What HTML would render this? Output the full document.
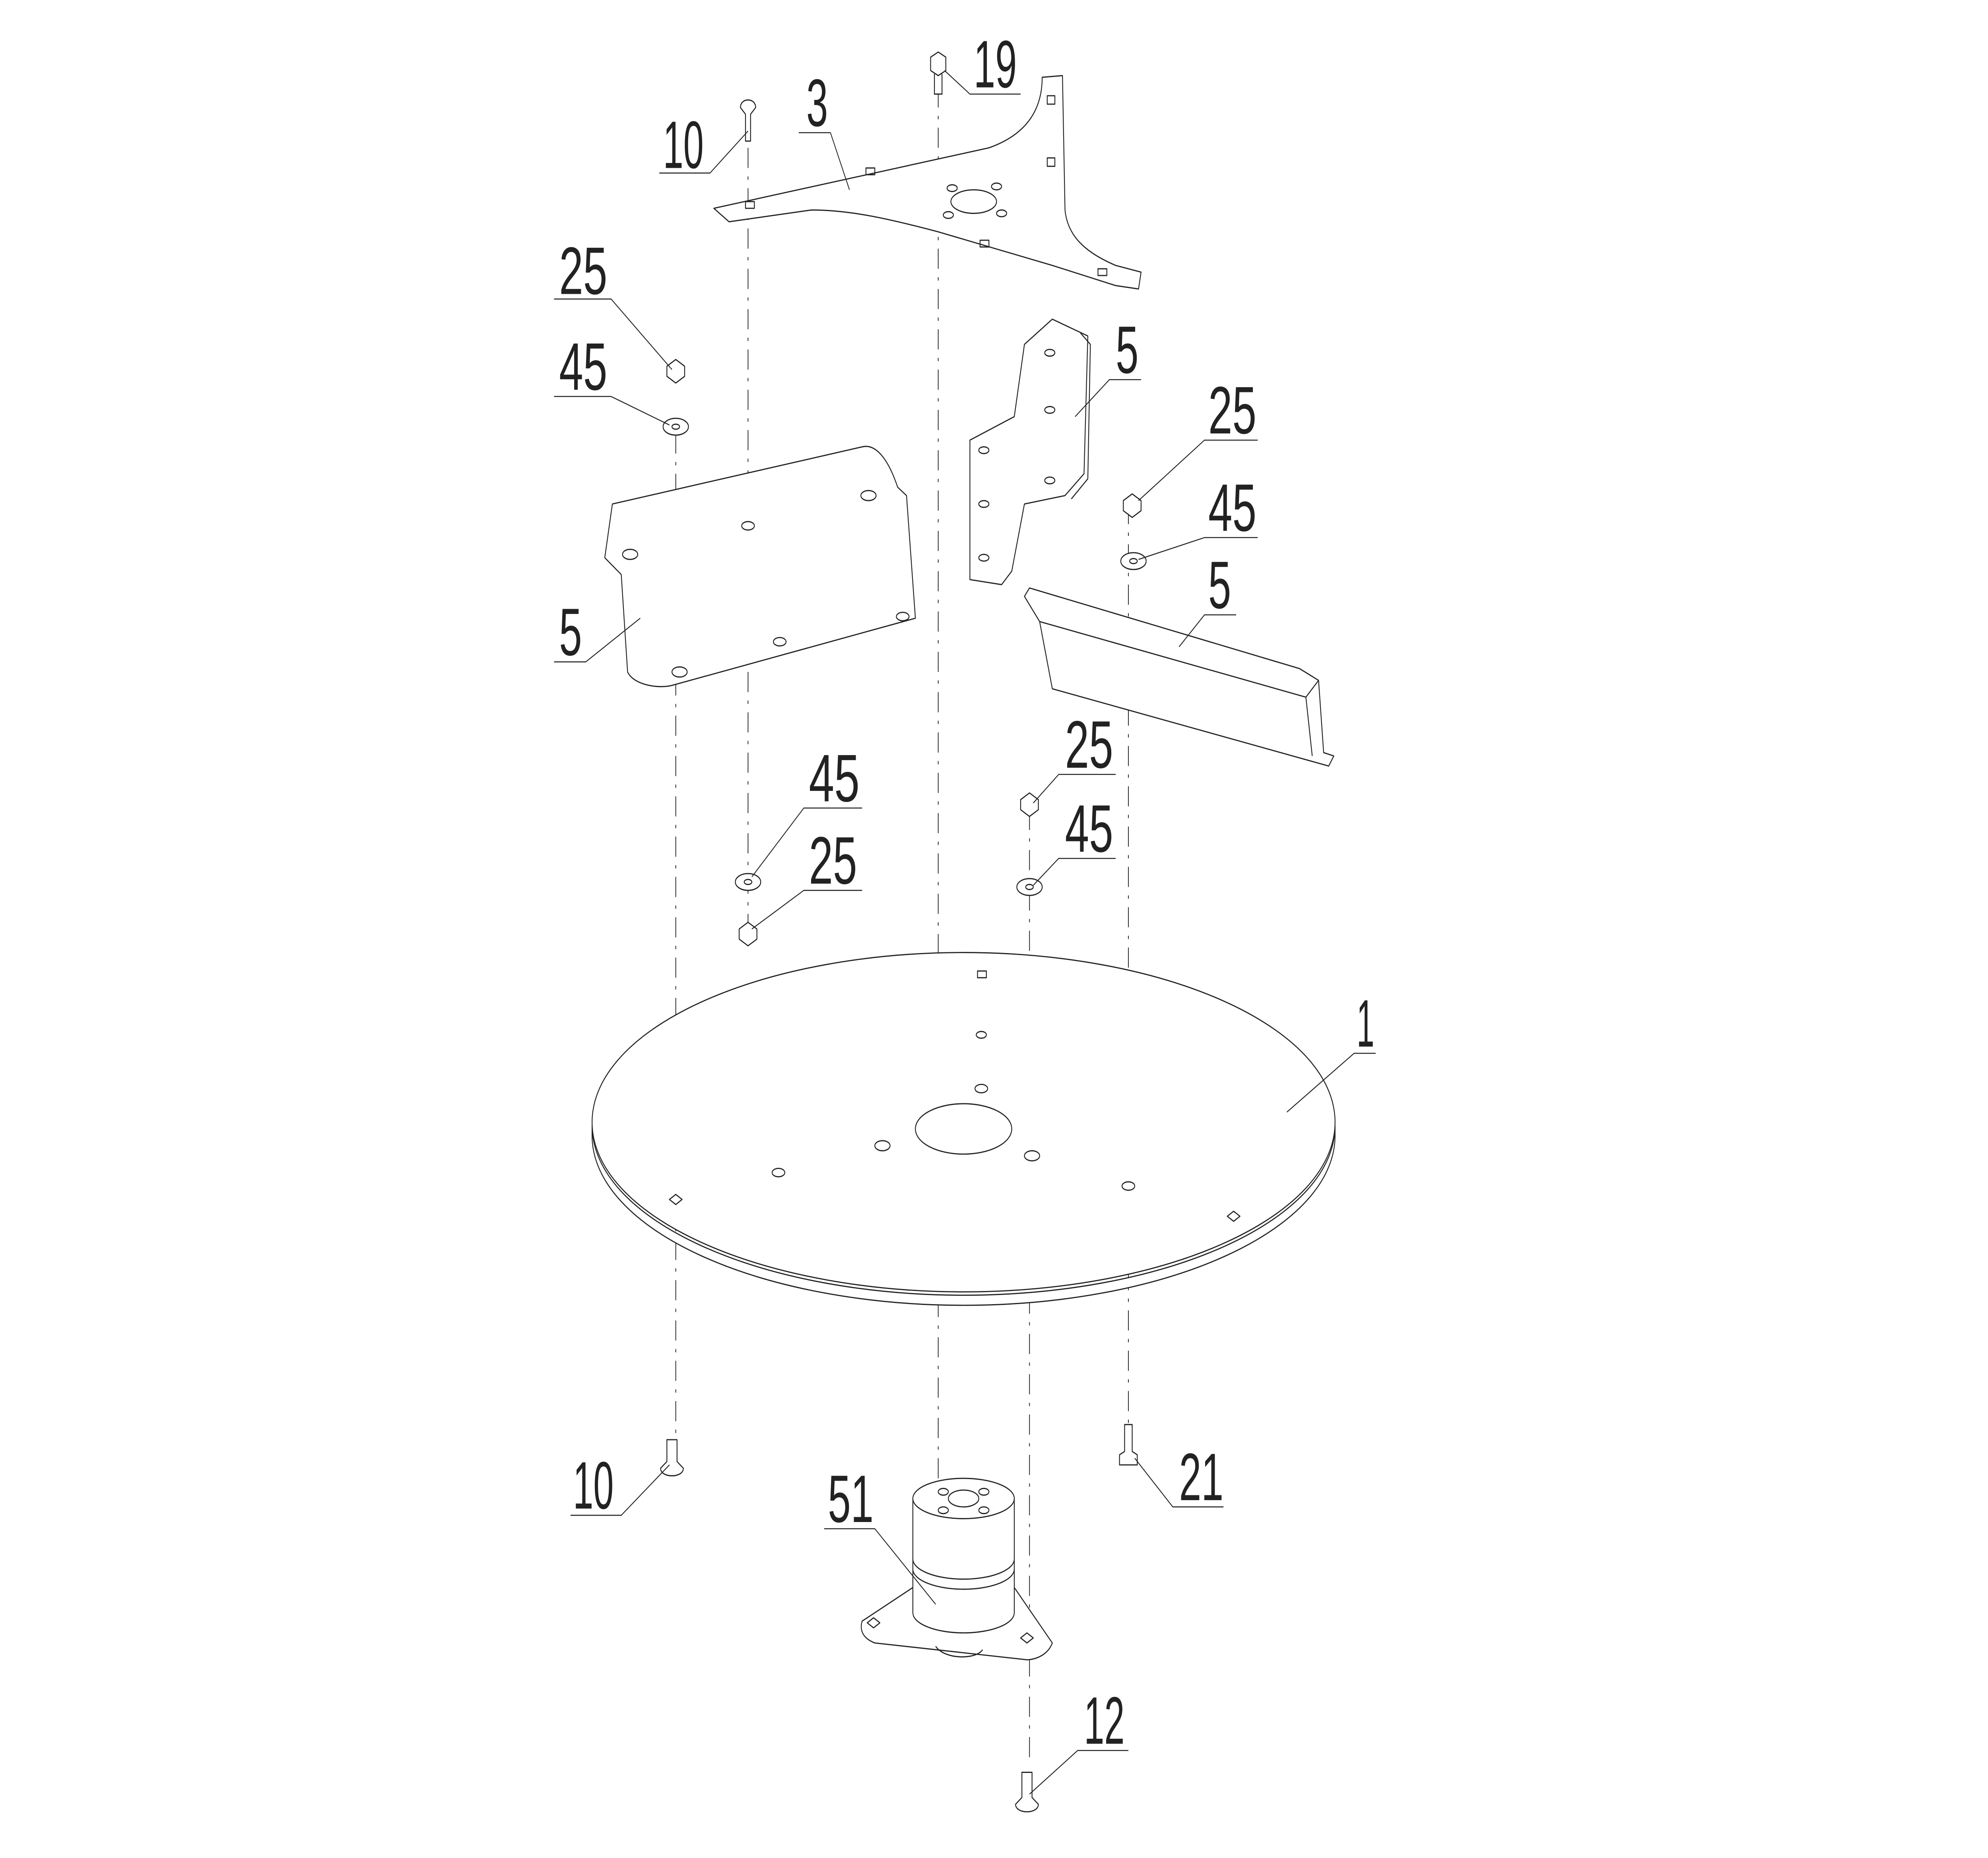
<!DOCTYPE html>
<html><head><meta charset="utf-8"><style>
html,body{margin:0;padding:0;background:#fff;width:100%;height:100%;overflow:hidden;}
svg{display:block;width:100vw;height:100vh;}
text{font-family:"Liberation Sans Narrow","Liberation Sans",sans-serif;font-size:40px;fill:#222;}
</style></head><body>
<svg viewBox="0 0 1568 1106" preserveAspectRatio="none" xmlns="http://www.w3.org/2000/svg">
<rect width="1568" height="1106" fill="#fff"/>
<g fill="none" stroke="#222" stroke-width="0.7" stroke-linejoin="round">
<g stroke-dasharray="12,5,2,5" stroke-width="0.6">
<line x1="590" y1="88" x2="590" y2="550"/>
<line x1="533" y1="258" x2="533" y2="860"/>
<line x1="740" y1="52" x2="740" y2="890"/>
<line x1="812" y1="482" x2="812" y2="1050"/>
<line x1="890" y1="300" x2="890" y2="850"/>
</g>
<path d="M467,670 A293,101 0 0 0 1053,670 L1053,676 A293,101 0 0 1 467,676 Z" fill="#fff"/>
<ellipse cx="760" cy="668" rx="293" ry="101" fill="#fff"/>
<ellipse cx="760" cy="672" rx="38" ry="15" fill="#fff"/>
<ellipse cx="696" cy="682" rx="6" ry="3"/><ellipse cx="814" cy="688" rx="6" ry="3"/>
<ellipse cx="614" cy="698" rx="5" ry="2.5"/><ellipse cx="890" cy="706" rx="5" ry="2.5"/>
<ellipse cx="774" cy="616" rx="4" ry="2"/><ellipse cx="774" cy="648" rx="5" ry="2.5"/>
<rect x="771" y="578" width="7" height="4"/>
<path d="M528,714 l5,-3 l5,3 l-5,3z"/><path d="M968,724 l5,-3 l5,3 l-5,3z"/>
<path d="M563,124 L780,88 C810,80 822,65 822,46 L838,45 L840,125 C842,140 855,150 880,158 L900,162 L898,172 L880,170 L830,158 L740,138 C700,130 670,125 640,125 L575,132 Z" fill="#fff"/>
<ellipse cx="768" cy="120" rx="18" ry="7"/>
<ellipse cx="751" cy="112" rx="4" ry="2"/><ellipse cx="786" cy="111" rx="4" ry="2"/>
<ellipse cx="748" cy="128" rx="4" ry="2"/><ellipse cx="790" cy="127" rx="4" ry="2"/>
<rect x="683" y="100" width="7" height="4"/><rect x="773" y="143" width="7" height="4"/>
<rect x="826" y="57" width="6" height="5"/><rect x="826" y="94" width="6" height="5"/>
<rect x="866" y="160" width="7" height="4"/><rect x="588" y="120" width="7" height="4"/>
<path d="M483,300 L680,266 C690,264 700,272 708,290 L715,295 L722,368 L530,408 C520,410 500,408 495,400 L490,342 L477,332 Z" fill="#fff"/>
<ellipse cx="497" cy="330" rx="6" ry="3"/><ellipse cx="685" cy="295" rx="6" ry="3"/>
<ellipse cx="590" cy="313" rx="5" ry="2.5"/><ellipse cx="536" cy="400" rx="6" ry="3"/>
<ellipse cx="615" cy="382" rx="5" ry="2.5"/><ellipse cx="712" cy="367" rx="5" ry="2.5"/>
<path d="M765,262 L800,248 L808,205 L830,190 L858,200 L855,282 L840,295 L808,300 L798,340 L790,348 L765,345 Z" fill="#fff"/>
<path d="M852,198 L860,205 L858,285 L845,297"/>
<ellipse cx="828" cy="210" rx="4" ry="2"/><ellipse cx="828" cy="244" rx="4" ry="2"/>
<ellipse cx="828" cy="286" rx="4" ry="2"/><ellipse cx="776" cy="268" rx="4" ry="2"/>
<ellipse cx="776" cy="300" rx="4" ry="2"/><ellipse cx="776" cy="332" rx="4" ry="2"/>
<path d="M808,355 L812,350 L1025,398 L1040,405 L1044,448 L1052,450 L1048,456 L830,410 L820,370 Z" fill="#fff"/>
<path d="M820,370 L1030,415 L1040,405"/><path d="M1030,415 L1035,450"/>
<path d="M680,965 L720,945 L800,945 L830,978 C826,986 815,988 810,988 L690,978 C680,975 678,970 680,965 Z" fill="#fff"/>
<path d="M738,980 C745,988 770,988 775,982"/>
<path d="M720,892 L720,960 A40,12 0 0 0 800,960 L800,892" fill="#fff"/>
<ellipse cx="760" cy="892" rx="40" ry="12" fill="#fff"/>
<path d="M720,928 A40,12 0 0 0 800,928"/><path d="M720,934 A40,12 0 0 0 800,934"/>
<ellipse cx="760" cy="892" rx="12" ry="5"/>
<ellipse cx="744" cy="888" rx="4" ry="2"/><ellipse cx="776" cy="888" rx="4" ry="2"/>
<ellipse cx="744" cy="899" rx="4" ry="2"/><ellipse cx="776" cy="899" rx="4" ry="2"/>
<path d="M684,966 l5,-3 l5,3 l-5,3z"/><path d="M805,975 l5,-3 l5,3 l-5,3z"/>
<g fill="#fff">
<path d="M526,218 l7,-4 l7,4 l0,6 l-7,4 l-7,-4 z"/>
<path d="M886,298 l7,-4 l7,4 l0,6 l-7,4 l-7,-4 z"/>
<path d="M805,476 l7,-4 l7,4 l0,6 l-7,4 l-7,-4 z"/>
<path d="M583,553 l7,-4 l7,4 l0,6 l-7,4 l-7,-4 z"/>
</g>
<g fill="#fff">
<ellipse cx="533" cy="254" rx="10" ry="5"/><ellipse cx="894" cy="334" rx="10" ry="5"/>
<ellipse cx="812" cy="528" rx="10" ry="5"/><ellipse cx="590" cy="525" rx="10" ry="5"/>
</g>
<ellipse cx="533" cy="254" rx="3" ry="1.5"/><ellipse cx="894" cy="334" rx="3" ry="1.5"/>
<ellipse cx="812" cy="528" rx="3" ry="1.5"/><ellipse cx="590" cy="525" rx="3" ry="1.5"/>
<path d="M584,64 C584,58 596,58 596,64 L592,68 L592,84 L588,84 L588,68 Z" fill="#fff"/>
<path d="M734,34 l6,-3 l6,3 l0,8 l-6,3 l-6,-3 z M737,44 L737,56 L743,56 L743,44" fill="#fff"/>
<path d="M526,857 L526,870 L521,874 C521,880 539,880 539,874 L534,870 L534,857 Z" fill="#fff"/>
<path d="M887,848 L887,864 L883,866 L883,872 L897,872 L897,866 L893,864 L893,848 Z" fill="#fff"/>
<path d="M806,1055 L806,1070 L801,1074 C801,1080 819,1080 819,1074 L814,1070 L814,1055 Z" fill="#fff"/>
<g stroke-width="0.6">
<polyline points="520,103 560,103 590,78"/>
<polyline points="630,79 655,79 670,113"/>
<polyline points="805,56 765,56 745,42"/>
<polyline points="437,178 482,178 530,220"/>
<polyline points="437,236 482,236 528,253"/>
<polyline points="437,394 462,394 505,368"/>
<polyline points="900,226 875,226 848,248"/>
<polyline points="992,262 950,262 898,298"/>
<polyline points="992,320 950,320 898,333"/>
<polyline points="975,366 950,366 930,385"/>
<polyline points="880,461 835,461 815,478"/>
<polyline points="880,511 835,511 815,527"/>
<polyline points="680,481 634,481 593,522"/>
<polyline points="680,530 634,530 593,553"/>
<polyline points="1085,627 1068,627 1015,662"/>
<polyline points="450,902 490,902 528,872"/>
<polyline points="965,897 925,897 895,868"/>
<polyline points="650,910 690,910 738,955"/>
<polyline points="890,1042 850,1042 812,1068"/>
</g>
</g>
<g>
<text x="523" y="100" textLength="32" lengthAdjust="spacingAndGlyphs">10</text>
<text x="636" y="75" textLength="17" lengthAdjust="spacingAndGlyphs">3</text>
<text x="768" y="52" textLength="34" lengthAdjust="spacingAndGlyphs">19</text>
<text x="441" y="175" textLength="38" lengthAdjust="spacingAndGlyphs">25</text>
<text x="441" y="232" textLength="38" lengthAdjust="spacingAndGlyphs">45</text>
<text x="441" y="390" textLength="18" lengthAdjust="spacingAndGlyphs">5</text>
<text x="880" y="222" textLength="18" lengthAdjust="spacingAndGlyphs">5</text>
<text x="953" y="258" textLength="38" lengthAdjust="spacingAndGlyphs">25</text>
<text x="953" y="316" textLength="38" lengthAdjust="spacingAndGlyphs">45</text>
<text x="953" y="362" textLength="18" lengthAdjust="spacingAndGlyphs">5</text>
<text x="840" y="457" textLength="38" lengthAdjust="spacingAndGlyphs">25</text>
<text x="840" y="507" textLength="38" lengthAdjust="spacingAndGlyphs">45</text>
<text x="638" y="477" textLength="40" lengthAdjust="spacingAndGlyphs">45</text>
<text x="638" y="526" textLength="38" lengthAdjust="spacingAndGlyphs">25</text>
<text x="1070" y="623" textLength="14" lengthAdjust="spacingAndGlyphs">1</text>
<text x="452" y="898" textLength="32" lengthAdjust="spacingAndGlyphs">10</text>
<text x="930" y="893" textLength="35" lengthAdjust="spacingAndGlyphs">21</text>
<text x="653" y="906" textLength="36" lengthAdjust="spacingAndGlyphs">51</text>
<text x="855" y="1038" textLength="32" lengthAdjust="spacingAndGlyphs">12</text>
</g>
</svg>
</body></html>
